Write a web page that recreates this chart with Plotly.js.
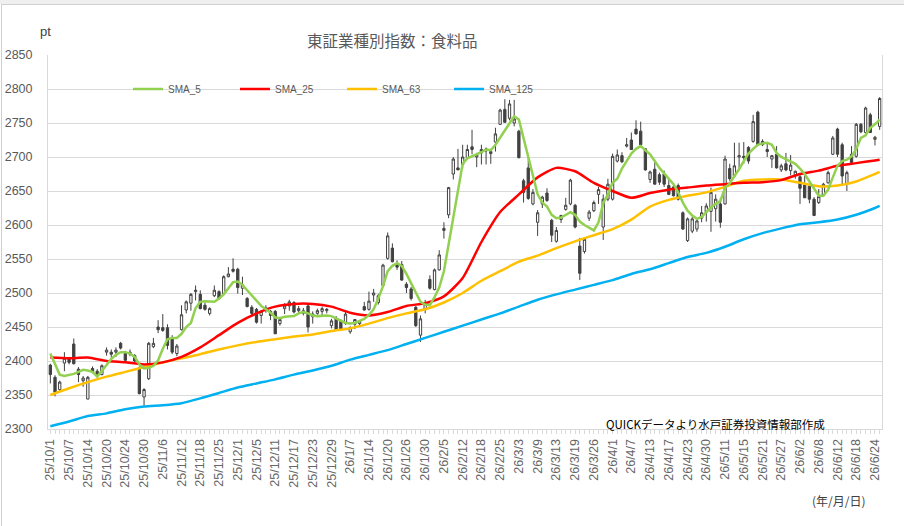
<!DOCTYPE html>
<html><head><meta charset="utf-8">
<script src="https://cdn.plot.ly/plotly-3.0.1.min.js"></script>
<style>
body{margin:0;background:#fff;overflow:hidden}
#chart{position:absolute;left:0;top:0;width:904px;height:526px}
#strip{position:absolute;left:0;top:0;width:904px;height:4px;background:#efefef}
#frame{position:absolute;left:1px;top:4px;width:910px;height:540px;border-top:1px solid #d0d0d0;border-left:1px solid #d0d0d0;pointer-events:none}
</style></head><body>
<div id="chart"></div><div id="strip"></div><div id="frame"></div>
<script>
// Trading days (category axis)
const dates = [
"25/10/1","25/10/2","25/10/3","25/10/6","25/10/7","25/10/8","25/10/9","25/10/10","25/10/14","25/10/15","25/10/16","25/10/17","25/10/20","25/10/21","25/10/22","25/10/23","25/10/24","25/10/27","25/10/28","25/10/29","25/10/30","25/10/31",
"25/11/4","25/11/5","25/11/6","25/11/7","25/11/10","25/11/11","25/11/12","25/11/13","25/11/14","25/11/17","25/11/18","25/11/19","25/11/20","25/11/21","25/11/25","25/11/26","25/11/27","25/11/28",
"25/12/1","25/12/2","25/12/3","25/12/4","25/12/5","25/12/8","25/12/9","25/12/10","25/12/11","25/12/12","25/12/15","25/12/16","25/12/17","25/12/18","25/12/19","25/12/22","25/12/23","25/12/24","25/12/25","25/12/26","25/12/29","25/12/30",
"26/1/5","26/1/6","26/1/7","26/1/8","26/1/9","26/1/13","26/1/14","26/1/15","26/1/16","26/1/19","26/1/20","26/1/21","26/1/22","26/1/23","26/1/26","26/1/27","26/1/28","26/1/29","26/1/30",
"26/2/2","26/2/3","26/2/4","26/2/5","26/2/6","26/2/9","26/2/10","26/2/12","26/2/13","26/2/16","26/2/17","26/2/18","26/2/19","26/2/20","26/2/24","26/2/25","26/2/26","26/2/27",
"26/3/2","26/3/3","26/3/4","26/3/5","26/3/6","26/3/9","26/3/10","26/3/11","26/3/12","26/3/13","26/3/16","26/3/17","26/3/18","26/3/19","26/3/23","26/3/24","26/3/25","26/3/26","26/3/27","26/3/30","26/3/31",
"26/4/1","26/4/2","26/4/3","26/4/6","26/4/7","26/4/8","26/4/9","26/4/10","26/4/13","26/4/14","26/4/15","26/4/16","26/4/17","26/4/20","26/4/21","26/4/22","26/4/23","26/4/24","26/4/27","26/4/28","26/4/30",
"26/5/1","26/5/7","26/5/8","26/5/11","26/5/12","26/5/13","26/5/14","26/5/15","26/5/18","26/5/19","26/5/20","26/5/21","26/5/22","26/5/25","26/5/26","26/5/27","26/5/28","26/5/29",
"26/6/1","26/6/2","26/6/3","26/6/4","26/6/5","26/6/8","26/6/9","26/6/10","26/6/11","26/6/12","26/6/15","26/6/16","26/6/17","26/6/18","26/6/19","26/6/22","26/6/23","26/6/24","26/6/25"
];

const openV = [2394,2376,2358,2397,2404,2425,2388,2371,2344,2389,2385,2380,2413,2413,2413,2426,2411,2410,2408,2390,2347,2374,2421,2450,2449,2449,2433,2411,2446,2475,2485,2502,2498,2482,2470,2496,2502,2499,2524,2535,2535,2507,2492,2479,2476,2467,2475,2473,2473,2455,2477,2481,2486,2474,2470,2481,2465,2470,2473,2474,2452,2463,2459,2455,2443,2454,2455,2480,2476,2497,2486,2511,2551,2566,2543,2542,2513,2506,2479,2438,2476,2520,2505,2534,2592,2615,2675,2684,2689,2699,2715,2700,2706,2709,2705,2722,2748,2770,2757,2750,2738,2665,2684,2631,2604,2631,2647,2607,2576,2608,2623,2631,2629,2569,2561,2610,2621,2645,2597,2638,2638,2694,2702,2716,2725,2741,2738,2712,2667,2682,2674,2675,2658,2656,2658,2618,2577,2591,2594,2610,2619,2620,2624,2631,2631,2683,2672,2700,2701,2714,2723,2766,2723,2711,2697,2704,2681,2690,2680,2674,2671,2659,2657,2638,2633,2644,2662,2704,2741,2718,2660,2704,2701,2748,2736,2762,2726,2745];
const highV = [2396,2379,2371,2413,2406,2433,2391,2378,2378,2392,2388,2395,2420,2417,2420,2428,2415,2417,2410,2392,2360,2428,2434,2460,2469,2454,2438,2425,2482,2489,2500,2511,2504,2486,2479,2511,2504,2526,2538,2551,2537,2524,2494,2482,2478,2475,2482,2475,2475,2465,2485,2490,2488,2481,2478,2483,2473,2477,2480,2478,2462,2466,2461,2473,2451,2461,2460,2487,2502,2506,2499,2543,2589,2573,2548,2547,2516,2509,2481,2467,2490,2526,2536,2563,2604,2656,2700,2712,2718,2718,2740,2706,2718,2714,2712,2743,2771,2785,2784,2784,2740,2668,2699,2653,2622,2643,2654,2609,2597,2615,2640,2668,2631,2581,2581,2622,2636,2656,2645,2668,2705,2711,2707,2728,2736,2754,2752,2713,2680,2694,2677,2680,2669,2660,2661,2620,2611,2612,2610,2628,2632,2655,2645,2640,2702,2690,2721,2721,2722,2716,2762,2768,2726,2720,2702,2716,2690,2706,2703,2680,2676,2673,2660,2641,2653,2662,2680,2731,2743,2721,2680,2716,2750,2750,2774,2765,2731,2788];
const lowV = [2367,2348,2355,2385,2395,2395,2369,2362,2344,2382,2377,2379,2408,2405,2406,2417,2400,2407,2398,2351,2334,2372,2419,2441,2443,2417,2410,2407,2445,2470,2474,2489,2476,2474,2467,2494,2490,2498,2523,2530,2499,2497,2479,2465,2455,2455,2471,2460,2440,2452,2469,2474,2470,2470,2467,2442,2455,2468,2466,2470,2448,2444,2446,2453,2440,2447,2452,2474,2474,2487,2483,2511,2549,2545,2534,2518,2500,2489,2450,2428,2470,2505,2504,2533,2580,2610,2667,2681,2683,2697,2704,2685,2689,2689,2690,2708,2747,2751,2754,2745,2698,2633,2637,2629,2584,2625,2634,2575,2574,2603,2621,2629,2595,2519,2558,2606,2619,2631,2578,2635,2636,2692,2691,2714,2711,2733,2716,2680,2662,2660,2659,2656,2644,2642,2636,2593,2575,2588,2590,2604,2605,2590,2605,2596,2630,2665,2670,2682,2690,2690,2721,2717,2716,2700,2684,2683,2678,2679,2673,2668,2631,2640,2632,2613,2631,2642,2661,2703,2700,2660,2650,2691,2699,2735,2735,2736,2717,2740];
const closeV = [2380,2354,2369,2404,2398,2396,2380,2375,2376,2384,2379,2393,2416,2410,2416,2419,2401,2413,2400,2352,2358,2426,2426,2446,2445,2423,2413,2422,2468,2487,2498,2504,2477,2476,2477,2504,2492,2524,2528,2532,2508,2512,2480,2470,2457,2473,2478,2467,2440,2461,2481,2487,2472,2477,2474,2450,2469,2474,2477,2476,2459,2445,2446,2469,2449,2461,2459,2475,2488,2500,2496,2541,2584,2546,2538,2519,2508,2492,2452,2462,2484,2507,2534,2556,2595,2655,2697,2681,2700,2711,2711,2703,2711,2712,2708,2734,2769,2751,2778,2756,2699,2648,2639,2648,2618,2641,2636,2585,2592,2614,2629,2666,2597,2529,2579,2619,2633,2652,2638,2660,2701,2703,2693,2718,2711,2734,2718,2681,2678,2660,2663,2660,2645,2643,2638,2594,2609,2609,2606,2618,2628,2648,2638,2604,2697,2668,2687,2702,2699,2694,2752,2718,2718,2708,2702,2684,2687,2681,2688,2679,2654,2640,2638,2614,2642,2660,2677,2728,2704,2672,2677,2692,2748,2737,2772,2736,2729,2786];

// SMA_5 (every trading day)
const sma5 = [2411,2395,2380,2378,2379,2381,2384,2387,2386,2384,2377,2385,2394,2403,2409,2413,2413,2411,2406,2395,2389,2390,2393,2401,2418,2432,2434,2434,2440,2450,2456,2478,2487,2488,2487,2487,2492,2498,2507,2516,2517,2512,2504,2496,2488,2481,2476,2471,2464,2463,2465,2466,2466,2470,2472,2470,2467,2466,2467,2467,2466,2463,2460,2456,2455,2456,2459,2462,2468,2476,2492,2510,2532,2540,2544,2540,2528,2515,2500,2487,2483,2482,2494,2508,2532,2573,2610,2655,2690,2698,2701,2703,2707,2711,2710,2718,2729,2740,2750,2760,2755,2728,2700,2675,2645,2633,2627,2615,2610,2611,2615,2619,2615,2605,2600,2596,2592,2604,2632,2645,2662,2668,2683,2694,2705,2712,2716,2710,2704,2694,2684,2676,2668,2660,2648,2633,2621,2614,2609,2612,2619,2626,2631,2635,2655,2661,2672,2682,2694,2705,2712,2718,2720,2721,2718,2706,2700,2697,2694,2690,2683,2675,2664,2653,2643,2643,2652,2670,2687,2694,2696,2701,2712,2728,2732,2743,2748,2755];
// SMA_25 / SMA_63 / SMA_125 read every 4th trading day (tick days) and the last day
const sma25 = [2405,2404,2405,2400,2398,2395,2398,2406,2420,2438,2456,2470,2480,2484,2484,2480,2471,2467,2472,2481,2485,2495,2522,2575,2619,2645,2670,2684,2679,2662,2650,2640,2647,2652,2655,2658,2660,2662,2663,2666,2675,2680,2687,2691,2695,2696];
const sma63 = [2350,2360,2369,2377,2384,2391,2398,2404,2410,2417,2423,2428,2432,2436,2439,2444,2448,2455,2463,2470,2476,2486,2500,2518,2532,2546,2555,2566,2576,2585,2594,2608,2627,2637,2643,2648,2656,2665,2667,2667,2662,2657,2658,2664,2675,2678];
const sma125 = [2304,2311,2319,2323,2329,2333,2335,2338,2345,2353,2361,2367,2373,2380,2386,2393,2402,2409,2416,2425,2434,2443,2452,2461,2470,2480,2490,2498,2505,2512,2519,2528,2535,2544,2553,2559,2568,2579,2588,2595,2601,2604,2608,2615,2625,2628];

const seriesNames = ["SMA_5","SMA_25","SMA_63","SMA_125"];
const seriesColors = ["#92D050","#FF0000","#FFC000","#00B0F0"];

const sampleDates = dates.filter((d,i)=> i%4===0 || i===dates.length-1);
const tickText = dates.map((d,i)=> i%4===0 ? d : "");

const LATIN = "Liberation Sans, Arial, Noto Sans CJK JP, sans-serif";
const CJK = "Noto Sans CJK JP, sans-serif";

const candle = {
  type:'candlestick', x:dates, open:openV, high:highV, low:lowV, close:closeV,
  increasing:{line:{color:'#404040',width:1}, fillcolor:'#ffffff'},
  decreasing:{line:{color:'#404040',width:1}, fillcolor:'#404040'},
  whiskerwidth:0, showlegend:false, hoverinfo:'skip'
};
function lineTrace(k, xs, ys, rank){
  return {type:'scatter', mode:'lines', name:seriesNames[k], x:xs, y:ys,
    line:{color:seriesColors[k], width:2.5, shape:'spline', smoothing:0.6}, legendrank:rank, hoverinfo:'skip'};
}
const traces = [
  candle,
  lineTrace(3, sampleDates, sma125, 4),
  lineTrace(2, sampleDates, sma63, 3),
  lineTrace(1, sampleDates, sma25, 2),
  Object.assign(lineTrace(0, dates, sma5, 1), {line:{color:seriesColors[0], width:2.5, shape:'linear'}})
];

const layout = {
  width:904, height:526,
  margin:{l:48, r:22, t:55, b:97},
  paper_bgcolor:'#ffffff', plot_bgcolor:'#ffffff',
  font:{family:LATIN, color:'#595959'},
  showlegend:true,
  legend:{orientation:'h', x:0.0959, y:0.909, xanchor:'left', yanchor:'middle',
    bgcolor:'rgba(0,0,0,0)', font:{size:10, color:'#595959', family:LATIN},
    entrywidth:62, traceorder:'normal'},
  xaxis:{type:'category', tickmode:'array', tickvals:dates, ticktext:tickText,
    tickangle:-90, tickfont:{size:12.5, color:'#666666'}, ticks:'outside', ticklen:4,
    tickcolor:'#d9d9d9', showgrid:false, showline:true, linecolor:'#d9d9d9',
    rangeslider:{visible:false}, range:[-0.5, dates.length-0.5], fixedrange:true},
  yaxis:{range:[2300,2850], tick0:2300, dtick:50, showgrid:true, gridcolor:'#d9d9d9',
    gridwidth:1, showline:true, linecolor:'#d9d9d9', mirror:true, ticks:'',
    tickfont:{size:12.5, color:'#595959'}, ticklabelstandoff:12, zeroline:false, fixedrange:true},
  annotations:[
    {text:'東証業種別指数：食料品', xref:'paper', yref:'paper', x:0.4125, y:1.040,
      xanchor:'center', yanchor:'middle', showarrow:false, font:{family:CJK, size:15.5, color:'#595959'}},
    {text:'pt', xref:'paper', yref:'paper', x:-0.0025, y:1.0615, xanchor:'center', yanchor:'middle',
      showarrow:false, font:{family:LATIN, size:13, color:'#404040'}},
    {text:'QUICKデータより水戸証券投資情報部作成', xref:'paper', yref:'paper', x:0.6667, y:0.0134,
      xanchor:'left', yanchor:'middle', showarrow:false, font:{family:CJK, size:11.5, color:'#000000'}},
    {text:'(年/月/日)', xref:'paper', yref:'paper', x:0.948, y:-0.19, xanchor:'center', yanchor:'middle',
      showarrow:false, font:{family:CJK, size:12, color:'#404040'}}
  ]
};

Plotly.newPlot('chart', traces, layout, {staticPlot:true, displayModeBar:false});
</script></body></html>
